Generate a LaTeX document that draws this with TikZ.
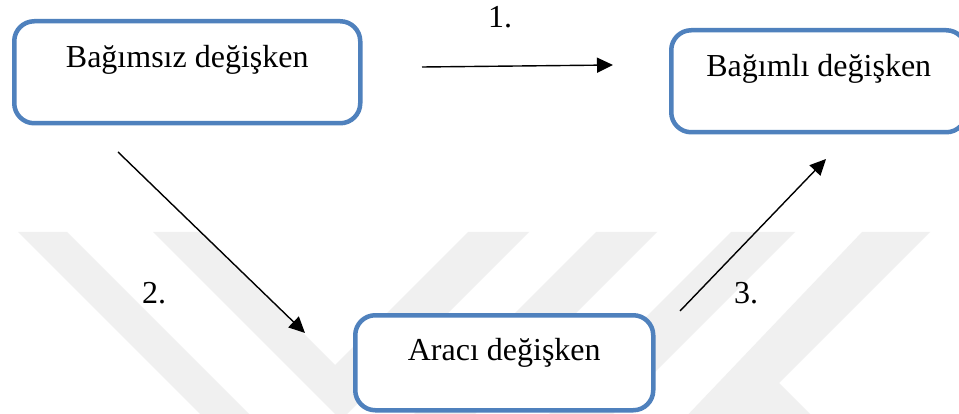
\documentclass[tikz,border=0pt]{standalone}
\usepackage{fontspec}
\setmainfont{Liberation Serif}
\usetikzlibrary{arrows.meta}
\definecolor{boxblue}{RGB}{79,129,189}
\definecolor{wmgray}{RGB}{240,240,240}

\begin{document}
\begin{tikzpicture}[x=1pt,y=-1pt,
  varbox/.style={draw=boxblue, line width=4.5pt, rounded corners=20pt, fill=white,
    inner xsep=0pt, inner ysep=0pt, text height=46pt, anchor=north west,
    font=\fontsize{32}{38}\selectfont},
  link/.style={line width=1.4pt, -{Triangle[length=16pt,width=15pt]}},
  steplabel/.style={inner sep=0pt, font=\fontsize{32}{38}\selectfont}
]
% page area
\fill[white] (0,0) rectangle (959,414);
\useasboundingbox (0,0) rectangle (959,414);

% faint chevron watermark in the background
\fill[wmgray] (18,232) -- (67,232) -- (331.5,496.5) -- (596,232) -- (657,232) -- (337.5,551.5) -- cycle;
\fill[wmgray] (153,232) -- (202,232) -- (335,365) -- (468,232) -- (529,232) -- (341,420) -- cycle;
\fill[wmgray] (731,232) -- (795,232) -- (560,467) -- (496,467) -- cycle;
\fill[wmgray] (862,232) -- (930,232) -- (779,383) -- (840,444) -- (660,444) -- cycle;

% variables
\node[varbox, minimum width=346pt, text depth=56pt] (indep) at (12,19) {Bağımsız değişken};
\node[varbox, minimum width=295pt, text depth=56pt] (dep) at (669,28) {Bağımlı değişken};
\node[varbox, minimum width=298pt, text height=45pt, text depth=50pt] (med) at (353,313) {Aracı değişken};

% arrow end points
\coordinate (p1s) at (422,67);
\coordinate (p1e) at (613,65);
\coordinate (p2s) at (118,152);
\coordinate (p2e) at (305,333);
\coordinate (p3s) at (680,311);
\coordinate (p3e) at (826,159);

\draw[link] (p1s) -- (p1e);
\draw[link] (p2s) -- (p2e);
\draw[link] (p3s) -- (p3e);

% path numbers
\node[steplabel] (n1) at (500,17) {1.};
\node[steplabel] (n2) at (154,293) {2.};
\node[steplabel] (n3) at (746,293) {3.};
\end{tikzpicture}
\end{document}
